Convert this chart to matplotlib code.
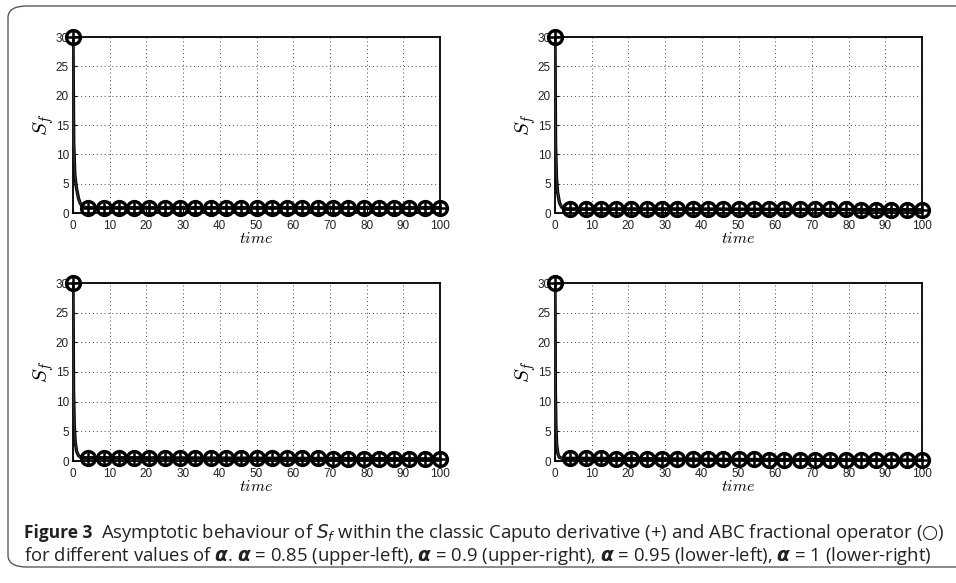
import matplotlib
matplotlib.use("Agg")
import matplotlib.pyplot as plt
from matplotlib.patches import FancyBboxPatch

# ---------------- data ----------------
marker_t = [0, 4.17, 8.33, 12.5, 16.67, 20.83, 25, 29.17, 33.33, 37.5, 41.67,
            45.83, 50, 54.17, 58.33, 62.5, 66.67, 70.83, 75, 79.17, 83.33,
            87.5, 91.67, 95.83, 100]

# early decay portion of each curve (time, S_f)
decay_t_ul = [0, 0.2, 0.5, 0.9, 1.5, 2.0, 2.7, 3.5]
decay_s_ul = [30, 12, 6.5, 4.4, 2.5, 1.6, 1.1, 0.95]
decay_t_ur = [0, 0.15, 0.4, 0.7, 1.2, 1.8, 2.5, 3.5]
decay_s_ur = [30, 12, 6.0, 3.6, 1.8, 1.0, 0.75, 0.7]
decay_t_ll = [0, 0.15, 0.35, 0.6, 1.0, 1.5, 2.2, 3.5]
decay_s_ll = [30, 12, 6.0, 3.2, 1.6, 0.9, 0.6, 0.55]
decay_t_lr = [0, 0.1, 0.25, 0.45, 0.8, 1.2, 2.0, 3.5]
decay_s_lr = [30, 12, 6.0, 2.8, 1.2, 0.6, 0.45, 0.45]

caputo_ul = [30] + [0.9] * 24
abc_ul    = [30] + [0.9] * 24
caputo_ur = [30, 0.7, 0.7, 0.7, 0.7, 0.7, 0.7, 0.7, 0.7, 0.7, 0.68, 0.67, 0.66,
             0.65, 0.64, 0.63, 0.62, 0.61, 0.6, 0.6, 0.59, 0.58, 0.57, 0.56, 0.55]
abc_ur    = caputo_ur
caputo_ll = [30, 0.55, 0.55, 0.55, 0.55, 0.54, 0.53, 0.52, 0.51, 0.5, 0.49, 0.48,
             0.47, 0.46, 0.45, 0.44, 0.43, 0.42, 0.41, 0.4, 0.39, 0.38, 0.37, 0.36, 0.35]
abc_ll    = caputo_ll
caputo_lr = [30, 0.45, 0.45, 0.44, 0.42, 0.4, 0.38, 0.36, 0.34, 0.32, 0.3, 0.28,
             0.27, 0.26, 0.25, 0.24, 0.23, 0.22, 0.21, 0.2, 0.2, 0.19, 0.18, 0.17, 0.16]
abc_lr    = caputo_lr

x_ticks = [0, 10, 20, 30, 40, 50, 60, 70, 80, 90, 100]
y_ticks = [0, 5, 10, 15, 20, 25, 30]

panels = [
    (decay_t_ul, decay_s_ul, caputo_ul, abc_ul),
    (decay_t_ur, decay_s_ur, caputo_ur, abc_ur),
    (decay_t_ll, decay_s_ll, caputo_ll, abc_ll),
    (decay_t_lr, decay_s_lr, caputo_lr, abc_lr),
]

W, H = 956, 583
fig = plt.figure(figsize=(W / 100, H / 100), dpi=100)

# frame box
frame = FancyBboxPatch((8 / W, 1 - 567 / H), (990 - 8) / W, (567 - 6) / H,
                       boxstyle="round,pad=0,rounding_size=0.02",
                       transform=fig.transFigure, fill=False,
                       edgecolor="#5a5a5a", linewidth=1.0, clip_on=False)
fig.patches.append(frame)

# axes positions in pixels: left, right, top, bottom
boxes = [(73, 440, 37, 213), (555, 922, 37, 213),
         (73, 440, 283, 461), (555, 922, 283, 461)]

for (l, r, t, b), (dt, ds, cap, abc) in zip(boxes, panels):
    ax = fig.add_axes([l / W, 1 - b / H, (r - l) / W, (b - t) / H])
    line_t = dt + marker_t[1:]
    line_s = ds + cap[1:]
    ax.plot(line_t, line_s, color="black", lw=2.4, solid_joinstyle="round", zorder=3)
    ax.plot(line_t, ds + abc[1:], color="#333333", lw=1.0, zorder=3)
    ax.plot(marker_t, abc, linestyle="none", marker="o", markersize=10,
            markerfacecolor="none", markeredgecolor="black", markeredgewidth=2.4,
            clip_on=False, zorder=4)
    ax.plot(marker_t, cap, linestyle="none", marker="+", markersize=10,
            markeredgecolor="black", markeredgewidth=1.8, clip_on=False, zorder=5)
    ax.set_xlim(0, 100)
    ax.set_ylim(0, 30)
    ax.set_xticks(x_ticks)
    ax.set_yticks(y_ticks)
    ax.tick_params(direction="in", length=3, width=0.8, labelsize=8.5,
                   top=False, right=False, colors="black", labelcolor="#222222")
    ax.tick_params(axis="x", pad=5)
    ax.tick_params(axis="y", pad=3)
    ax.grid(True, linestyle=(0, (1, 3)), color="#444444", linewidth=0.7)
    for s in ax.spines.values():
        s.set_linewidth(1.3)
    ax.set_xlabel(r"$time$", fontsize=11.5, labelpad=-1, math_fontfamily="cm")
    ax.set_ylabel(r"$S_f$", fontsize=15, labelpad=0, math_fontfamily="cm")
    for lab in ax.get_xticklabels() + ax.get_yticklabels():
        lab.set_fontfamily("Liberation Sans")

cap_font = "Open Sans"
cap_size = 12.5
renderer = fig.canvas.get_renderer()
line1 = r"Asymptotic behaviour of $S_f$ within the classic Caputo derivative (+) and ABC fractional operator ($\bigcirc$)"
line2 = r"for different values of $\boldsymbol{\alpha}$. $\boldsymbol{\alpha}$ = 0.85 (upper-left), $\boldsymbol{\alpha}$ = 0.9 (upper-right), $\boldsymbol{\alpha}$ = 0.95 (lower-left), $\boldsymbol{\alpha}$ = 1 (lower-right)"

t1 = fig.text(24 / W, 1 - 533 / H, "Figure 3", fontsize=cap_size, fontweight="bold",
              family=cap_font, va="center", ha="left", color="#222222")
bb = t1.get_window_extent(renderer=renderer)
t2 = fig.text((bb.x1 + 9) / W, 1 - 533 / H, line1,
              fontsize=cap_size, family=cap_font, va="center", ha="left", color="#222222",
              math_fontfamily="dejavusans")
b2 = t2.get_window_extent(renderer=renderer)
scale = (947 - (bb.x1 + 9)) / b2.width
t2.set_fontsize(cap_size * scale)
t3 = fig.text(24 / W, 1 - 556 / H, line2,
              fontsize=cap_size * scale, family=cap_font, va="center", ha="left",
              color="#222222", math_fontfamily="dejavusans")

fig.savefig("out.png", dpi=100)
